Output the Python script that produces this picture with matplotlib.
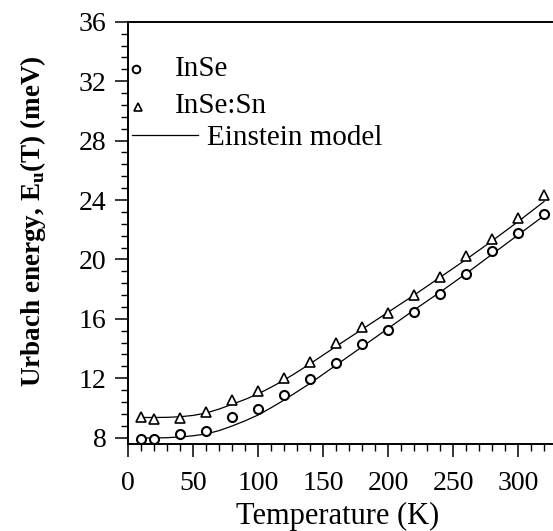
import matplotlib
matplotlib.use("Agg")
import matplotlib.pyplot as plt
from matplotlib.ticker import MultipleLocator

plt.rcParams['font.family'] = ['Liberation Serif', 'DejaVu Serif']
plt.rcParams['mathtext.fontset'] = 'custom'
plt.rcParams['mathtext.rm'] = 'Liberation Serif'
plt.rcParams['mathtext.bf'] = 'Liberation Serif:bold'

# measured points
temps = [10, 20, 40, 60, 80, 100, 120, 140, 160, 180, 200, 220, 240, 260, 280, 300, 320]
inse = [7.89, 7.89, 8.25, 8.46, 9.37, 9.91, 10.87, 11.95, 13.05, 14.28, 15.25, 16.44,
        17.67, 19.04, 20.54, 21.75, 23.08]
inse_sn = [9.36, 9.25, 9.35, 9.72, 10.54, 11.16, 12.0, 13.11, 14.35, 15.47, 16.41, 17.6,
           18.83, 20.23, 21.35, 22.76, 24.35]

# Einstein model curves
fit_t = [8, 20, 30, 40, 50, 60, 70, 80, 90, 100, 110, 120, 130, 140, 160, 180, 200,
         220, 240, 260, 280, 300, 320]
fit_inse = [7.98, 7.98, 8.0, 8.05, 8.13, 8.25, 8.48, 8.79, 9.14, 9.53, 10.02, 10.54,
            11.1, 11.66, 12.89, 14.12, 15.36, 16.6, 17.8, 19.05, 20.35, 21.65, 22.95]
fit_sn = [9.36, 9.36, 9.37, 9.41, 9.5, 9.66, 9.93, 10.25, 10.58, 10.95, 11.4, 11.88,
          12.42, 12.98, 14.15, 15.3, 16.45, 17.6, 18.8, 20.0, 21.25, 22.55, 23.9]

fig = plt.figure(figsize=(5.53, 5.31), dpi=100)
ax = fig.add_axes([0.232, 0.164, 0.766, 0.795])

ax.plot(fit_t, fit_inse, color='black', lw=0.9)
ax.plot(fit_t, fit_sn, color='black', lw=0.9)
ax.plot(temps, inse, linestyle='none', marker='o', ms=6.5, mfc='white', mec='black', mew=1.5)
ax.plot(temps, inse_sn, linestyle='none', marker='^', ms=6.5, mfc='white', mec='black', mew=1.2)

ax.set_xlim(0, 326)
ax.set_ylim(7.58, 36)
ax.xaxis.set_major_locator(MultipleLocator(50))
ax.xaxis.set_minor_locator(MultipleLocator(10))
ax.yaxis.set_major_locator(MultipleLocator(4))
ax.yaxis.set_minor_locator(MultipleLocator(0.8))
ax.set_yticks([8, 12, 16, 20, 24, 28, 32, 36])

ax.spines['right'].set_visible(False)
for s in ['left', 'bottom', 'top']:
    ax.spines[s].set_linewidth(1.4)

ax.tick_params(which='major', direction='out', length=9.5, width=1.1, labelsize=20)
ax.tick_params(which='minor', direction='out', length=4.8, width=1.0)
ax.tick_params(axis='x', which='major', pad=10)
ax.tick_params(axis='y', which='major', pad=6)

ax.set_xlabel('Temperature (K)', fontsize=22)
ax.xaxis.set_label_coords(0.495, -0.138)
ax.set_ylabel(r'Urbach energy, E$_{\mathbf{u}}$(T) (meV)', fontsize=19.5, fontweight='bold')
ax.yaxis.set_label_coords(-0.19, 0.527)

# legend drawn manually
tr = ax.transAxes
ax.plot([0.018], [0.888], transform=tr, marker='o', ms=5.5, mfc='white', mec='black', mew=1.4, clip_on=False)
ax.plot([0.024], [0.799], transform=tr, marker='^', ms=5.5, mfc='white', mec='black', mew=1.2, clip_on=False)
ax.plot([0.008, 0.165], [0.732, 0.732], transform=tr, color='black', lw=0.9)
ax.text(0.110, 0.889, 'InSe', transform=tr, fontsize=21, va='center', ha='left')
ax.text(0.110, 0.801, 'InSe:Sn', transform=tr, fontsize=21, va='center', ha='left')
ax.text(0.185, 0.725, 'Einstein model', transform=tr, fontsize=21, va='center', ha='left')

fig.savefig('out.png', dpi=100)
